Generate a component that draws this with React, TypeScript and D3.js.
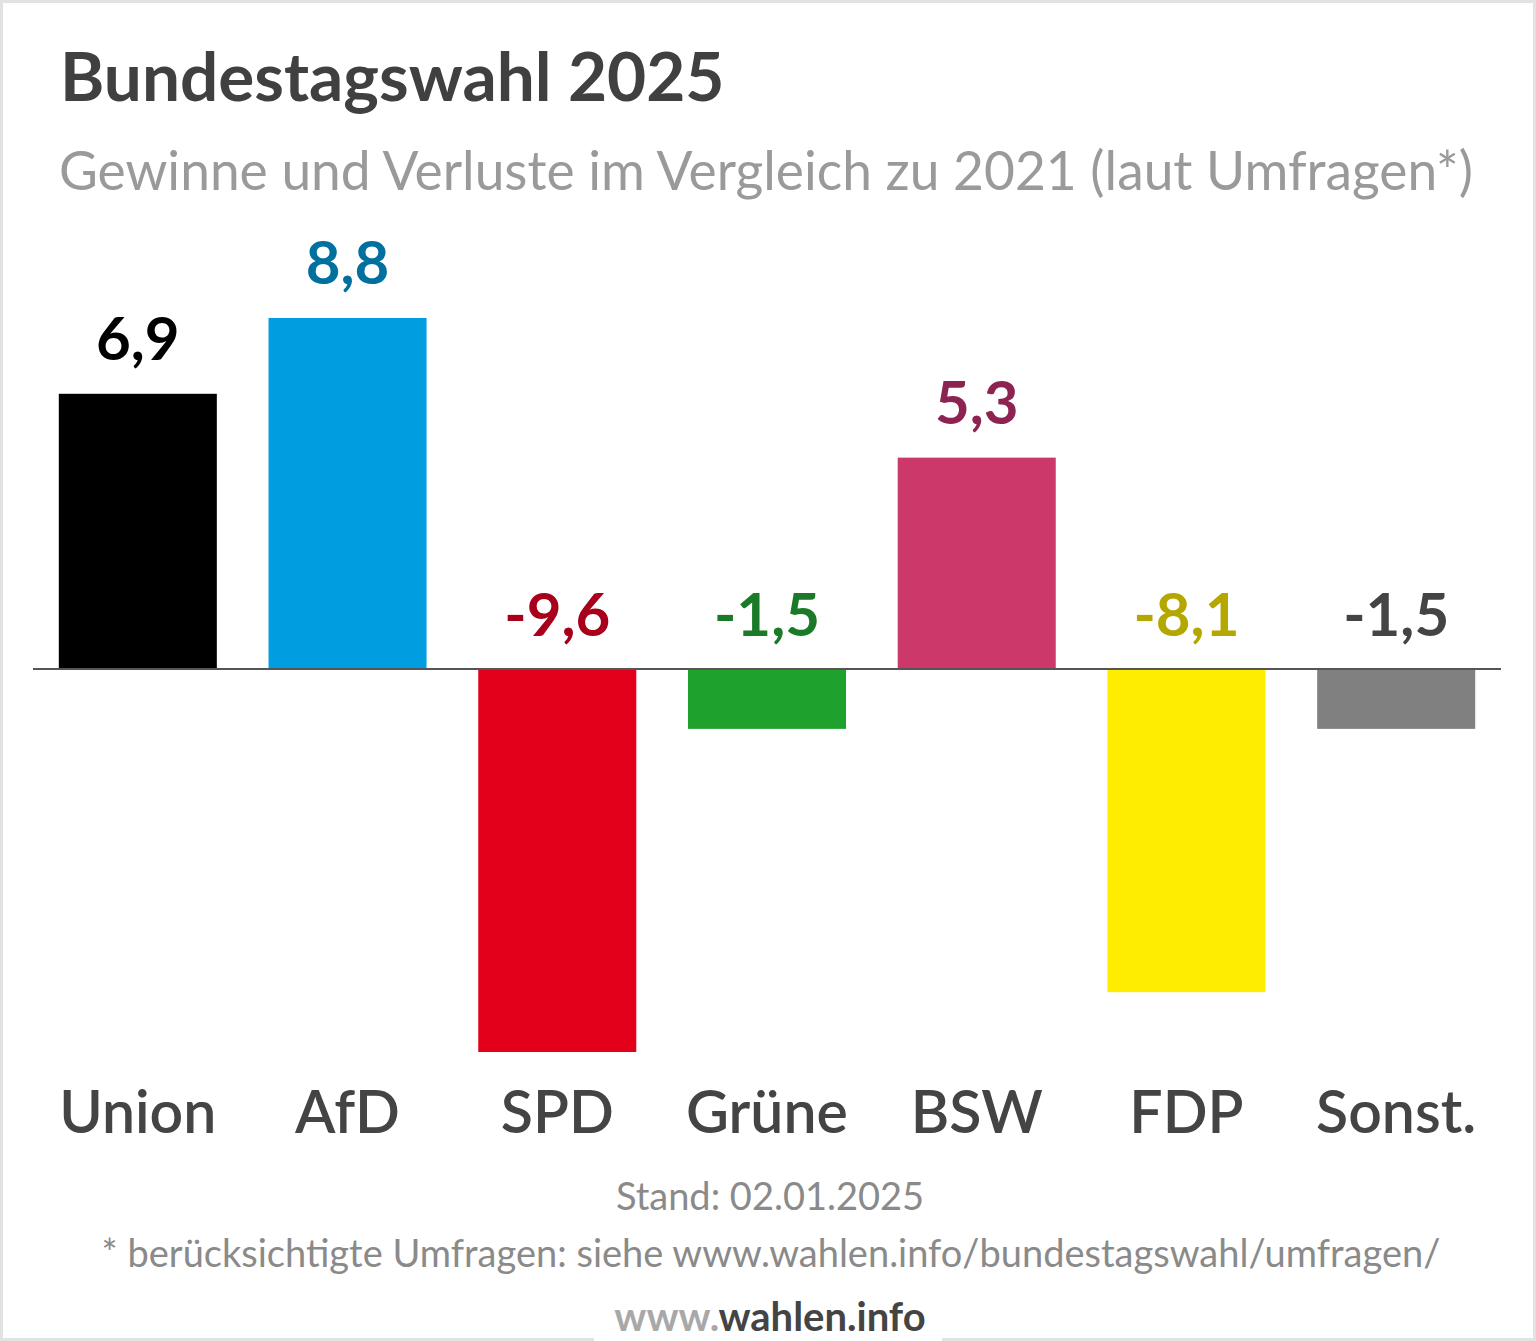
import React from "react";
import * as d3 from "d3";

const parties = ["Union", "AfD", "SPD", "Grüne", "BSW", "FDP", "Sonst."];
const changes = [6.9, 8.8, -9.6, -1.5, 5.3, -8.1, -1.5];
const barColors = ["#000000", "#009ee0", "#e2001a", "#1fa12e", "#cc3869", "#ffed00", "#808080"];
const labelColors = ["#000000", "#00709f", "#a8001a", "#1a7a28", "#8c2350", "#b3a700", "#444444"];

const W = 1536;
const H = 1341;
const font = "Lato, 'Open Sans', sans-serif";

export default function App() {
  // band scale for parties, linear scale for the change in points
  const x = d3
    .scaleBand()
    .domain(parties)
    .range([33, 1501])
    .paddingInner(0.2465)
    .paddingOuter(0.123);
  const y = d3.scaleLinear().domain([-9.6, 8.8]).range([1052, 318]);
  // german decimal comma, plain hyphen for minus
  const fmt = (v) => d3.format(".1f")(v).replace("−", "-").replace(".", ",");
  const data = parties.map((p, i) => ({ party: p, value: changes[i], i }));

  return (
    <svg
      width={W}
      height={H}
      style={{ position: "absolute", left: 0, top: 0, background: "#fff" }}
      fontFamily={font}
    >
      {/* frame, open at the bottom for the site name */}
      <path
        d={`M594,${H - 1.5} H1.5 V1.5 H${W - 1.5} V${H - 1.5} H942`}
        fill="none"
        stroke="#e2e2e2"
        strokeWidth={3}
      />
      <text x={60} y={101} fontSize={67.5} fontWeight={700} fill="#404040">
        Bundestagswahl 2025
      </text>
      <text x={59} y={190} fontSize={53.3} fill="#9a9a9a">
        Gewinne und Verluste im Vergleich zu 2021 (laut Umfragen*)
      </text>

      {data.map((d) => {
        const top = y(Math.max(0, d.value));
        const bottom = y(Math.min(0, d.value));
        const cx = x(d.party) + x.bandwidth() / 2;
        return (
          <g key={d.party}>
            <rect
              x={x(d.party)}
              y={top}
              width={x.bandwidth()}
              height={bottom - top}
              fill={barColors[d.i]}
            />
            <text
              x={cx}
              y={d.value >= 0 ? top - 34 : y(0) - 33}
              textAnchor="middle"
              fontSize={60}
              fontWeight={700}
              fill={labelColors[d.i]}
            >
              {fmt(d.value)}
            </text>
            <text
              x={cx}
              y={1133}
              textAnchor="middle"
              fontSize={59}
              fontWeight={600}
              fill="#444"
            >
              {d.party}
            </text>
          </g>
        );
      })}

      <line x1={33} x2={1501} y1={y(0)} y2={y(0)} stroke="#555" strokeWidth={2} />

      <text x={770} y={1210} textAnchor="middle" fontSize={38} fill="#8a8a8a">
        Stand: 02.01.2025
      </text>
      <text x={771} y={1267} textAnchor="middle" fontSize={38} fill="#8a8a8a">
        * berücksichtigte Umfragen: siehe www.wahlen.info/bundestagswahl/umfragen/
      </text>
      <text x={770} y={1331} textAnchor="middle" fontSize={40} fontWeight={700}>
        <tspan fill="#a8a8a8">www.</tspan>
        <tspan fill="#444">wahlen.info</tspan>
      </text>
    </svg>
  );
}
